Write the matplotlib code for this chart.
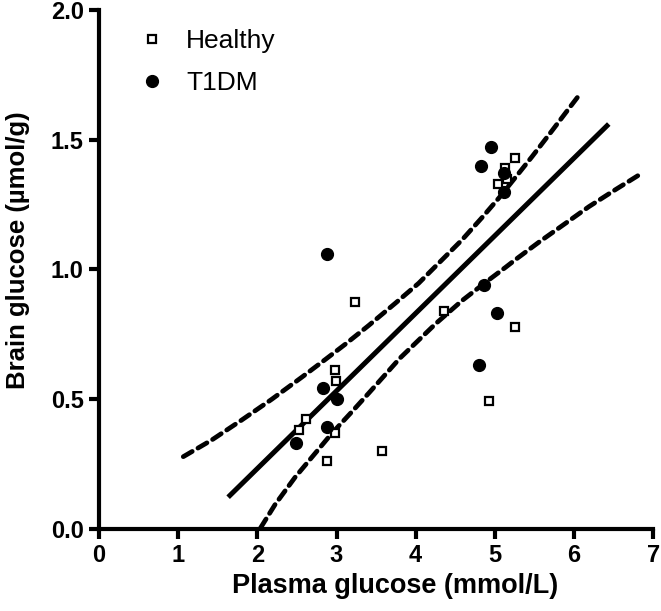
import numpy as np
import matplotlib
matplotlib.use("Agg")
import matplotlib.pyplot as plt

plt.rcParams['font.family'] = ['Liberation Sans', 'DejaVu Sans']

# %% Data
healthy_x = [5.25, 5.13, 5.15, 5.04, 3.23, 4.36, 5.25, 2.98, 2.99, 2.61, 2.52, 2.98, 4.93, 3.57, 2.88]
healthy_y = [1.43, 1.39, 1.35, 1.33, 0.873, 0.84, 0.78, 0.613, 0.571, 0.424, 0.383, 0.369, 0.492, 0.30, 0.263]

t1dm_x = [4.95, 4.82, 5.12, 5.12, 2.88, 5.03, 4.86, 4.80, 2.83, 3.01, 2.88, 2.49]
t1dm_y = [1.473, 1.40, 1.30, 1.37, 1.06, 0.832, 0.94, 0.632, 0.543, 0.503, 0.393, 0.332]

# regression line end points
fit_x = [1.63, 6.44]
fit_y = [0.123, 1.56]

# 95% confidence band
upper_x = [1.063, 1.422, 1.801, 2.181, 2.561, 2.857, 3.110, 3.405, 3.743, 4.038,
           4.333, 4.586, 4.839, 5.051, 5.262, 5.472, 5.725, 5.937, 6.085]
upper_y = [0.279, 0.343, 0.420, 0.500, 0.585, 0.653, 0.712, 0.784, 0.870, 0.947,
           1.037, 1.114, 1.200, 1.275, 1.355, 1.435, 1.535, 1.620, 1.679]
lower_x = [2.040, 2.224, 2.477, 2.730, 2.941, 3.194, 3.405, 3.800, 4.249, 4.586,
           4.882, 5.135, 5.262, 5.557, 5.895, 6.190, 6.528, 6.823]
lower_y = [0.005, 0.095, 0.200, 0.292, 0.369, 0.452, 0.523, 0.658, 0.790, 0.880,
           0.950, 1.008, 1.038, 1.105, 1.178, 1.242, 1.308, 1.364]

# %% Plot
fig = plt.figure(figsize=(6.61, 6.11), dpi=100)
ax = fig.add_axes([0.150, 0.134, 0.838, 0.850])

ax.plot(fit_x, fit_y, color="black", linewidth=3.6, solid_capstyle="butt", zorder=2)
ax.plot(upper_x, upper_y, color="black", linewidth=3.4, dashes=(2.2, 1.4),
        dash_capstyle="round", zorder=2)
ax.plot(lower_x, lower_y, color="black", linewidth=3.4, dashes=(2.2, 1.4),
        dash_capstyle="round", zorder=2)

ax.plot(healthy_x, healthy_y, linestyle="none", marker="s", markersize=6,
        markerfacecolor="white", markeredgecolor="black", markeredgewidth=1.6,
        label="Healthy", zorder=3)
ax.plot(t1dm_x, t1dm_y, linestyle="none", marker="o", markersize=8.5,
        color="black", label="T1DM", zorder=3)

ax.set_xlim(0, 7)
ax.set_ylim(0, 2.0)
ax.set_xticks(range(0, 8))
ax.set_yticks([0.0, 0.5, 1.0, 1.5, 2.0])
ax.set_yticklabels(["0.0", "0.5", "1.0", "1.5", "2.0"])

for s in ["top", "right"]:
    ax.spines[s].set_visible(False)
for s in ["left", "bottom"]:
    ax.spines[s].set_linewidth(3)
ax.tick_params(axis="both", direction="out", length=7, width=3, labelsize=17, pad=4)
for lab in ax.get_xticklabels() + ax.get_yticklabels():
    lab.set_fontweight("bold")

ax.set_xlabel("Plasma glucose (mmol/L)", fontsize=19.5, fontweight="bold")
ax.set_ylabel("Brain glucose (\u00b5mol/g)", fontsize=18.5, fontweight="bold")
ax.xaxis.set_label_coords(0.534, -0.085)
ax.yaxis.set_label_coords(-0.125, 0.538)

ax.legend(loc="upper left", bbox_to_anchor=(0.028, 1.008), frameon=False, fontsize=19,
          handletextpad=0.8, labelspacing=0.68, handlelength=1.0)

fig.savefig("out.png", dpi=100)
